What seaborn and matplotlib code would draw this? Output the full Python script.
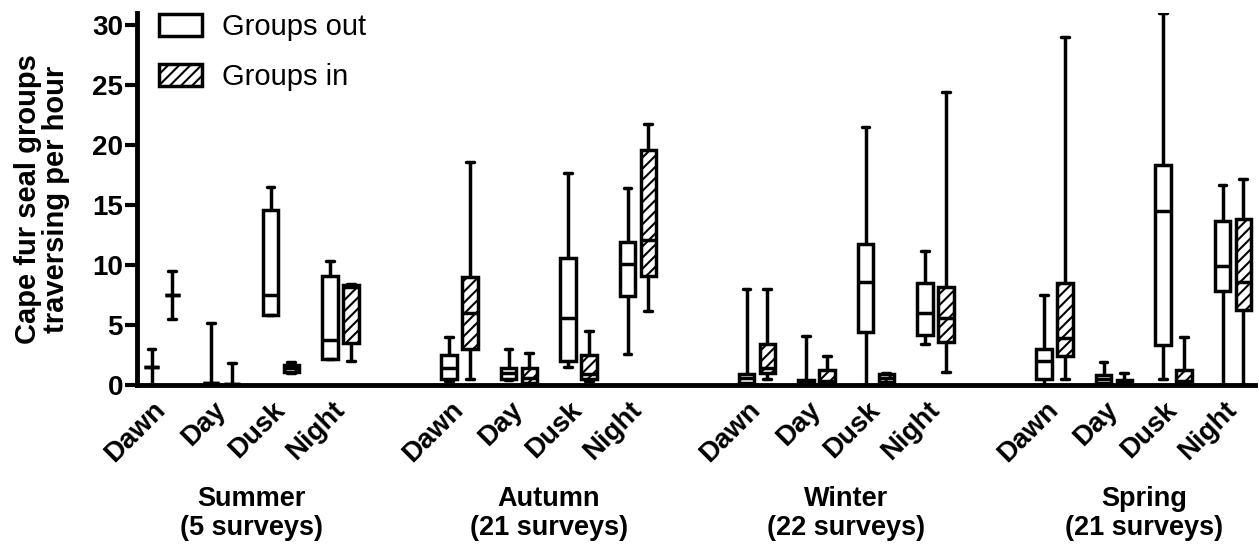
import numpy as np
import pandas as pd
import matplotlib
matplotlib.use("Agg")
import matplotlib.pyplot as plt
import matplotlib.transforms as mtransforms
from matplotlib.patches import Patch
import seaborn as sns

seasons = ["Summer", "Autumn", "Winter", "Spring"]
surveys = [5, 21, 22, 21]
times = ["Dawn", "Day", "Dusk", "Night"]
directions = ["Groups out", "Groups in"]

# five-number summaries (season-major, then time of day)
out_min = [0.0, 0.0, 5.8, 2.2, 0.3, 0.4, 1.5, 2.6, 0.0, 0.0, 0.0, 3.4, 0.0, 0.0, 0.5, 0.0]
out_q1 = [1.5, 0.15, 5.8, 2.2, 0.5, 0.5, 2.0, 7.4, 0.2, 0.0, 4.45, 4.2, 0.5, 0.2, 3.3, 7.8]
out_med = [1.5, 0.15, 7.5, 3.75, 1.4, 1.0, 5.6, 10.1, 0.6, 0.2, 8.6, 6.0, 2.0, 0.5, 14.5, 9.9]
out_q3 = [1.5, 0.15, 14.6, 9.1, 2.5, 1.4, 10.6, 11.9, 0.9, 0.4, 11.75, 8.5, 3.0, 0.8, 18.3, 13.7]
out_max = [3.0, 5.2, 16.5, 10.3, 4.0, 3.0, 17.7, 16.4, 8.0, 4.1, 21.5, 11.2, 7.5, 1.9, 31.0, 16.7]

in_min = [5.5, 0.0, 1.0, 2.0, 0.5, 0.0, 0.3, 6.2, 0.5, 0.0, 0.2, 1.1, 0.5, 0.0, 0.0, 0.0]
in_q1 = [7.5, 0.1, 1.1, 3.5, 3.0, 0.2, 0.5, 9.1, 1.0, 0.1, 0.25, 3.6, 2.4, 0.1, 0.1, 6.25]
in_med = [7.5, 0.1, 1.4, 8.2, 6.0, 0.6, 0.9, 12.1, 1.4, 0.3, 0.6, 5.6, 3.9, 0.2, 0.3, 8.6]
in_q3 = [7.5, 0.1, 1.7, 8.3, 9.0, 1.4, 2.5, 19.6, 3.4, 1.25, 0.9, 8.2, 8.5, 0.4, 1.25, 13.8]
in_max = [9.5, 1.8, 1.9, 8.4, 18.6, 2.7, 4.5, 21.75, 8.0, 2.4, 1.0, 24.4, 29.0, 1.0, 4.0, 17.2]

sns.set_theme(style="ticks")
plt.rcParams["font.family"] = ["Liberation Sans", "DejaVu Sans"]
plt.rcParams["hatch.linewidth"] = 1.5
for key in ["text.color", "axes.labelcolor", "xtick.color", "ytick.color", "axes.edgecolor"]:
    plt.rcParams[key] = "black"

# slot order with one empty slot between seasons
order = []
for i, s in enumerate(seasons):
    order += [f"{s}-{t}" for t in times]
    if i < len(seasons) - 1:
        order.append(f"gap{i}")

rows = []
for k in range(16):
    slot = f"{seasons[k // 4]}-{times[k % 4]}"
    for v in (out_min[k], out_q1[k], out_med[k], out_q3[k], out_max[k]):
        rows.append((slot, "Groups out", v))
    for v in (in_min[k], in_q1[k], in_med[k], in_q3[k], in_max[k]):
        rows.append((slot, "Groups in", v))
df = pd.DataFrame(rows, columns=["slot", "direction", "rate"])

fig = plt.figure(figsize=(12.59, 5.47), dpi=100)
ax = fig.add_axes([0.1088, 0.2962, 0.888, 0.680])
sns.boxplot(data=df, x="slot", y="rate", hue="direction", order=order,
            hue_order=directions, palette=["white", "white"],
            whis=(0, 100), width=0.7, gap=0.25, linewidth=2.5,
            linecolor="black", legend=False, ax=ax)

# hatch the "in" boxes (right-hand box of each pair)
for p in ax.patches:
    verts = p.get_path().vertices
    if len(verts) == 0:
        continue
    cx = (verts[:, 0].min() + verts[:, 0].max()) / 2
    if cx > round(cx):
        p.set_hatch("///")

ax.set_ylim(0, 31)
ax.set_xlim(-0.42, 18.37)
sns.despine(ax=ax)
for sp in ["left", "bottom"]:
    ax.spines[sp].set_linewidth(3.5)

ax.set_yticks(range(0, 31, 5))
ax.set_yticklabels([str(v) for v in range(0, 31, 5)], fontsize=20, fontweight="bold")
ax.tick_params(axis="y", length=9, width=3, pad=1)

pos = [order.index(f"{s}-{t}") for s in seasons for t in times]
ax.set_xticks(pos)
ax.set_xticklabels(times * 4, fontsize=20, fontweight="bold", rotation=45,
                   ha="right", va="center", rotation_mode="anchor")
ax.tick_params(axis="x", length=0, pad=15)
ax.set_xlabel("")

ax.set_ylabel("Cape fur seal groups\ntraversing per hour", fontsize=21,
              fontweight="bold", linespacing=1.0)
ax.yaxis.set_label_coords(-0.06, 0.5)

trans = mtransforms.blended_transform_factory(ax.transData, ax.transAxes)
for i, (s, n) in enumerate(zip(seasons, surveys)):
    ax.text(i * 5 + 1.5, -0.345, f"{s}\n({n} surveys)", ha="center", va="center",
            fontsize=19.5, fontweight="bold", linespacing=1.15, transform=trans)

handles = [Patch(facecolor="white", edgecolor="black", linewidth=2.5, label="Groups out"),
           Patch(facecolor="white", edgecolor="black", linewidth=2.5, hatch="///", label="Groups in")]
ax.legend(handles=handles, loc="upper left", bbox_to_anchor=(0.02, 1.0), frameon=False,
          prop={"size": 21}, handlelength=1.45, handleheight=0.8, handletextpad=0.7,
          labelspacing=0.75, borderaxespad=0, borderpad=0)

fig.savefig("out.png", dpi=100)
